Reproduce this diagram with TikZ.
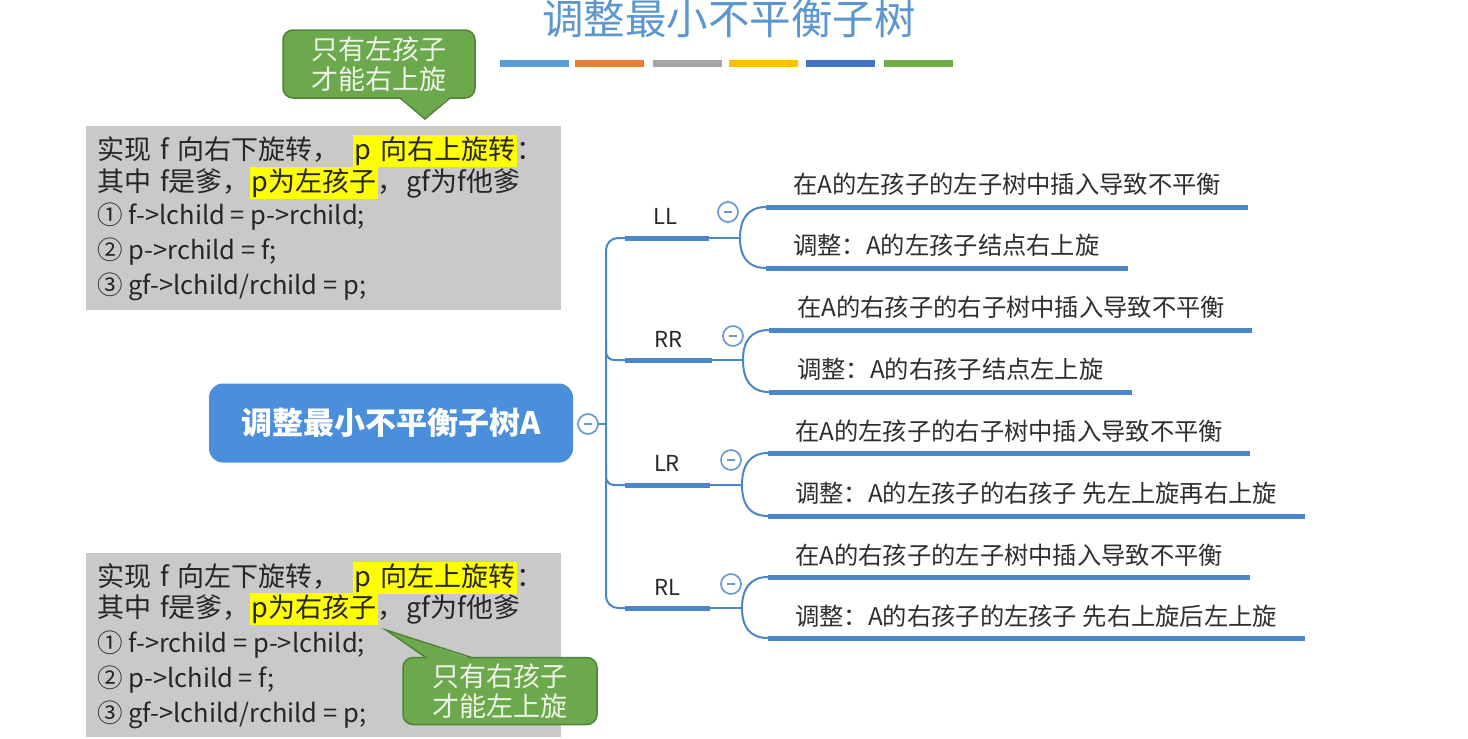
\documentclass[tikz,border=0pt]{standalone}
\usepackage{fontspec}
\setmainfont{Noto Sans CJK SC}
\definecolor{titleblue}{HTML}{5B96CF}
\definecolor{branch}{HTML}{4A86C8}
\definecolor{mainblue}{HTML}{4A8FDB}
\definecolor{circblue}{HTML}{6A9BD0}
\definecolor{boxgray}{HTML}{C9C9C9}
\definecolor{hlyellow}{HTML}{FFFF00}
\definecolor{callgreen}{HTML}{6CA84C}
\definecolor{callborder}{HTML}{4F8436}
\definecolor{calltext}{HTML}{EEF5E8}
\definecolor{cbar1}{HTML}{5B9BD5}
\definecolor{cbar2}{HTML}{ED7D31}
\definecolor{cbar3}{HTML}{A5A5A5}
\definecolor{cbar4}{HTML}{FFC000}
\definecolor{cbar5}{HTML}{4472C4}
\definecolor{cbar6}{HTML}{70AD47}
\newcommand\hlt[1]{{\setlength{\fboxsep}{1.5pt}\colorbox{hlyellow}{#1}}}
\begin{document}
\begin{tikzpicture}[x=1pt,y=-1pt,
  bar/.style={line width=5pt, color=branch},
  thinline/.style={line width=2pt, color=branch},
  leaf/.style={anchor=west, inner sep=0pt, text=black!82, font=\fontsize{24.3}{27}\selectfont},
  lab/.style={inner sep=0pt, text=black!85, font=\fontsize{22}{24}\selectfont},
  collapse/.style={circle, draw=circblue, line width=1.7pt, fill=white, minimum size=20pt, inner sep=0pt,
    path picture={\draw[circblue, line width=1.7pt] ([xshift=-4pt]path picture bounding box.center) -- ([xshift=4pt]path picture bounding box.center);}},
  boxline/.style={anchor=west, inner sep=0pt, text=black!85, font=\fontsize{27}{30}\selectfont},
  codeline/.style={anchor=west, inner sep=0pt, text=black!85, font=\fontsize{25.5}{28}\selectfont},
  graybox/.style={fill=boxgray, anchor=north west, inner sep=0pt},
  callout/.style={fill=callgreen, draw=callborder, line width=1.5pt, rounded corners=10pt, inner sep=0pt,
    text=calltext, align=center, font=\fontsize{27}{32}\selectfont},
  colorbar/.style={line width=7pt}
]
\useasboundingbox (0,0) rectangle (1468,739);

% title
\node[text=titleblue, font=\fontsize{41.5}{44}\selectfont, inner sep=0pt] (title) at (729,19) {调整最小不平衡子树};
\foreach \c/\a in {cbar1/500, cbar2/575, cbar3/653, cbar4/729, cbar5/806, cbar6/884}{
  \draw[colorbar, \c] (\a,63) -- ++(69,0);
}

% top gray box
\node[graybox, minimum width=475pt, minimum height=184pt] (boxA) at (86,126) {};
\node[boxline] (a1) at (97,151) {实现\hspace{9pt}f\hspace{9pt}向右下旋转，\hspace{13pt}\hlt{p\hspace{9pt}向右上旋转}：};
\node[boxline] (a2) at (97,183) {其中\hspace{9pt}f是爹，\hlt{p为左孩子}，\hspace{2pt}gf为f他爹};
\node[codeline] (a3) at (97,217) {① f->lchild = p->rchild;};
\node[codeline] (a4) at (97,252) {② p->rchild = f;};
\node[codeline] (a5) at (97,287) {③ gf->lchild/rchild = p;};

% top callout
\node[callout, minimum width=192pt, minimum height=68pt] (callA) at (379,64) {只有左孩子\\[-2pt]才能右上旋};
\coordinate (tipA) at (425,119);
\fill[callgreen] (400,96.5) -- (tipA) -- (450,96.5) -- cycle;
\draw[callborder, line width=1.5pt, line join=miter] (400,98) -- (tipA) -- (450,98);

% bottom gray box
\node[graybox, minimum width=475pt, minimum height=184pt] (boxB) at (86,553) {};
\node[boxline] (b1) at (97,578) {实现\hspace{9pt}f\hspace{9pt}向左下旋转，\hspace{13pt}\hlt{p\hspace{9pt}向左上旋转}：};
\node[boxline] (b2) at (97,609) {其中\hspace{9pt}f是爹，\hlt{p为右孩子}，\hspace{2pt}gf为f他爹};
\node[codeline] (b3) at (97,645) {① f->rchild = p->lchild;};
\node[codeline] (b4) at (97,680) {② p->lchild = f;};
\node[codeline] (b5) at (97,715) {③ gf->lchild/rchild = p;};

% bottom callout
\node[callout, minimum width=194pt, minimum height=67pt] (callB) at (500,691) {只有右孩子\\[-2pt]才能左上旋};
\coordinate (tipB) at (386,630);
\fill[callgreen] (427,659.5) -- (tipB) -- (473,659.5) -- cycle;
\draw[callborder, line width=1.5pt, line join=miter] (427,658) -- (tipB) -- (473,658);

% main node
\node[fill=mainblue, rounded corners=14pt, minimum width=364pt, minimum height=79pt, inner sep=0pt,
      text=white, font=\bfseries\fontsize{31}{34}\selectfont] (main) at (391,423) {调整最小不平衡子树A};
\node[collapse] (cmain) at (588,424) {};
\coordinate (hub) at (606,424);
\draw[thinline] (cmain) -- (hub);

% branch stems
\coordinate (LLs) at (625,238); \coordinate (LLe) at (709,238); \coordinate (LLf) at (740,238);
\coordinate (RRs) at (625,360); \coordinate (RRe) at (712,360); \coordinate (RRf) at (743,360);
\coordinate (LRs) at (625,485); \coordinate (LRe) at (710,485); \coordinate (LRf) at (742,485);
\coordinate (RLs) at (625,608); \coordinate (RLe) at (710,608); \coordinate (RLf) at (742,608);

\draw[thinline, rounded corners=12pt] (LLs) -- (606,238) -- (606,608) -- (RLs);
\draw[thinline, rounded corners=8pt] (606,340) -- (606,360) -- (RRs);
\draw[thinline, rounded corners=8pt] (606,465) -- (606,485) -- (LRs);

\foreach \b in {LL,RR,LR,RL}{
  \draw[bar] (\b s) -- (\b e);
  \draw[thinline] (\b e) -- (\b f);
}

\node[lab] (LL) at (665,216) {LL};
\node[lab] (RR) at (668,339) {RR};
\node[lab] (LR) at (667,463) {LR};
\node[lab] (RL) at (667,587) {RL};
\node[collapse] (cLL) at (728,212) {};
\node[collapse] (cRR) at (733,336) {};
\node[collapse] (cLR) at (731,460) {};
\node[collapse] (cRL) at (731,584) {};

% forks and leaves
% LL
\coordinate (LLu) at (766,207); \coordinate (LLd) at (766,268);
\draw[thinline] (LLf) .. controls (740,219) and (748,207) .. (LLu);
\draw[thinline] (LLf) .. controls (740,257) and (748,268) .. (LLd);
\draw[bar] (LLu) -- (1248,207);
\draw[bar] (LLd) -- (1128,268);
\node[leaf] (LL1) at (793,184) {在A的左孩子的左子树中插入导致不平衡};
\node[leaf] (LL2) at (793,245) {调整：A的左孩子结点右上旋};
% RR
\coordinate (RRu) at (769,330); \coordinate (RRd) at (769,392);
\draw[thinline] (RRf) .. controls (743,341) and (751,330) .. (RRu);
\draw[thinline] (RRf) .. controls (743,380) and (751,392) .. (RRd);
\draw[bar] (RRu) -- (1252,330);
\draw[bar] (RRd) -- (1132,392);
\node[leaf] (RR1) at (797,307) {在A的右孩子的右子树中插入导致不平衡};
\node[leaf] (RR2) at (797,369) {调整：A的右孩子结点左上旋};
% LR
\coordinate (LRu) at (768,453); \coordinate (LRd) at (768,516);
\draw[thinline] (LRf) .. controls (742,465) and (750,453) .. (LRu);
\draw[thinline] (LRf) .. controls (742,505) and (750,516) .. (LRd);
\draw[bar] (LRu) -- (1250,453);
\draw[bar] (LRd) -- (1305,516);
\node[leaf] (LR1) at (795,431) {在A的左孩子的右子树中插入导致不平衡};
\node[leaf] (LR2) at (795,493) {调整：A的左孩子的右孩子 先左上旋再右上旋};
% RL
\coordinate (RLu) at (768,577); \coordinate (RLd) at (768,638);
\draw[thinline] (RLf) .. controls (742,589) and (750,577) .. (RLu);
\draw[thinline] (RLf) .. controls (742,627) and (750,638) .. (RLd);
\draw[bar] (RLu) -- (1250,577);
\draw[bar] (RLd) -- (1305,638);
\node[leaf] (RL1) at (795,555) {在A的右孩子的左子树中插入导致不平衡};
\node[leaf] (RL2) at (795,616) {调整：A的右孩子的左孩子 先右上旋后左上旋};
\end{tikzpicture}
\end{document}
